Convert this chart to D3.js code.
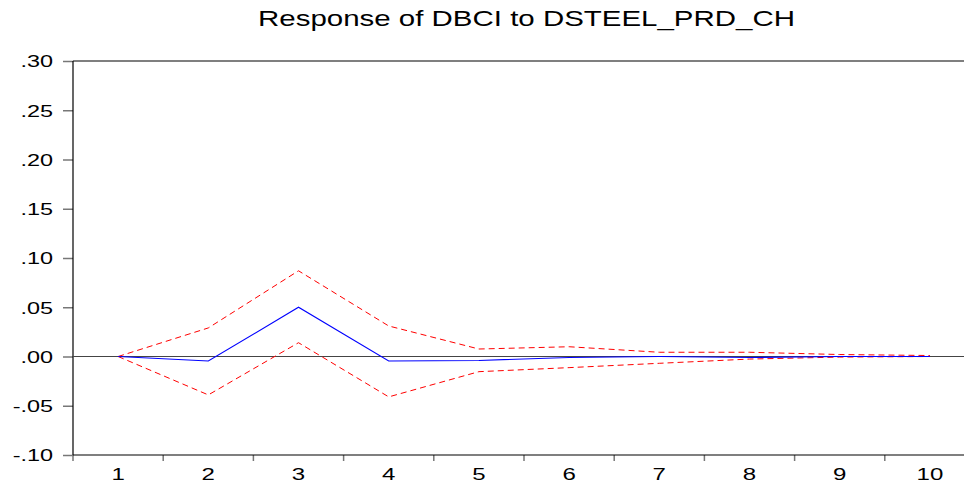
<!DOCTYPE html>
<html>
<head>
<meta charset="utf-8">
<script src="https://cdn.jsdelivr.net/npm/d3@7"></script>
<style>
  html, body { margin: 0; padding: 0; background: #fff; }
  svg { display: block; }
</style>
</head>
<body>
<svg id="chart" width="964" height="487"></svg>
<script>
// Impulse response periods
const periods = ["1", "2", "3", "4", "5", "6", "7", "8", "9", "10"];
// Point response
const response = [0.000, -0.0046, 0.050, -0.0046, -0.004, -0.001, 0.000, -0.001, 0.000, 0.000];
// ±2 S.E. bands
const upperBand = [0.000, 0.029, 0.087, 0.031, 0.0076, 0.0099, 0.0043, 0.0043, 0.002, 0.001];
const lowerBand = [0.000, -0.039, 0.014, -0.041, -0.0154, -0.0113, -0.0069, -0.0026, -0.0006, 0.000];
// Value-axis ticks
const yTicks = [0.30, 0.25, 0.20, 0.15, 0.10, 0.05, 0.00, -0.05, -0.10];
const yTickLabels = [".30", ".25", ".20", ".15", ".10", ".05", ".00", "-.05", "-.10"];

const svg = d3.select("#chart");
const plotLeft = 73, plotTop = 61, plotBottom = 455, bandRight = 975, frameRight = 964;

const x = d3.scaleBand().domain(periods).range([plotLeft, bandRight]).padding(0);
const y = d3.scaleLinear().domain([-0.10, 0.30]).range([plotBottom, plotTop]);

const font = "'Liberation Sans', Arial, sans-serif";

// Title
svg.append("text")
  .attr("x", 258).attr("y", 26)
  .attr("font-family", font)
  .attr("font-size", 22)
  .attr("fill", "#000")
  .attr("textLength", 537)
  .attr("lengthAdjust", "spacingAndGlyphs")
  .text("Response of DBCI to DSTEEL_PRD_CH");

// Frame: top border
svg.append("line")
  .attr("x1", plotLeft).attr("x2", frameRight)
  .attr("y1", plotTop).attr("y2", plotTop)
  .attr("stroke", "#000").attr("stroke-width", 1.2);

// Y axis (labels widened horizontally)
const yAxis = d3.axisLeft(y)
  .tickValues(yTicks)
  .tickFormat((d, i) => yTickLabels[i])
  .tickSize(10)
  .tickPadding(20);
const gy = svg.append("g").attr("transform", `translate(${plotLeft},0)`).call(yAxis);
gy.select(".domain").remove();
gy.selectAll(".tick line").attr("stroke", "#777").attr("stroke-width", 1.5);
gy.selectAll(".tick text")
  .attr("font-family", font).attr("font-size", 16.5).attr("fill", "#000")
  .attr("text-anchor", "start").attr("dy", "0.36em")
  .each(function () {
    const w = this.getComputedTextLength() * 1.42;
    d3.select(this).attr("textLength", w).attr("lengthAdjust", "spacingAndGlyphs")
      .attr("x", 53 - plotLeft - w);
  });
svg.append("line")
  .attr("x1", plotLeft).attr("x2", plotLeft)
  .attr("y1", plotTop).attr("y2", plotBottom)
  .attr("stroke", "#000").attr("stroke-width", 1.2);

// X axis: ticks at period boundaries, labels at centres
const gx = svg.append("g").attr("transform", `translate(0,${plotBottom})`);
const boundaries = periods.map(p => x(p)).concat([x(periods[periods.length - 1]) + x.bandwidth()]);
gx.selectAll("line.tk").data(boundaries.filter(b => b <= frameRight)).join("line")
  .attr("class", "tk")
  .attr("x1", d => d).attr("x2", d => d)
  .attr("y1", 0).attr("y2", 6)
  .attr("stroke", "#777").attr("stroke-width", 1.5);
gx.selectAll("text").data(periods).join("text")
  .attr("y", 25)
  .attr("font-family", font)
  .attr("font-size", 16)
  .attr("fill", "#000")
  .text(d => d)
  .each(function (d) {
    const w = this.getComputedTextLength() * 1.5;
    d3.select(this).attr("textLength", w).attr("lengthAdjust", "spacingAndGlyphs")
      .attr("x", x(d) + x.bandwidth() / 2 - w / 2);
  });
svg.append("line")
  .attr("x1", plotLeft).attr("x2", frameRight)
  .attr("y1", plotBottom).attr("y2", plotBottom)
  .attr("stroke", "#000").attr("stroke-width", 1.2);

// Zero reference line
svg.append("line")
  .attr("x1", plotLeft).attr("x2", frameRight)
  .attr("y1", y(0)).attr("y2", y(0))
  .attr("stroke", "#444").attr("stroke-width", 1);

const cx = p => x(p) + x.bandwidth() / 2;
const line = d3.line().x(d => cx(d.p)).y(d => y(d.v));
const toPts = arr => arr.map((v, i) => ({ p: periods[i], v }));

// Confidence bands
[upperBand, lowerBand].forEach(band => {
  svg.append("path")
    .datum(toPts(band))
    .attr("d", line)
    .attr("fill", "none")
    .attr("stroke", "#ff0000")
    .attr("stroke-width", 1)
    .attr("stroke-dasharray", "6,4");
});

// Response
svg.append("path")
  .datum(toPts(response))
  .attr("d", line)
  .attr("fill", "none")
  .attr("stroke", "#0000ff")
  .attr("stroke-width", 1.1);
</script>
</body>
</html>
